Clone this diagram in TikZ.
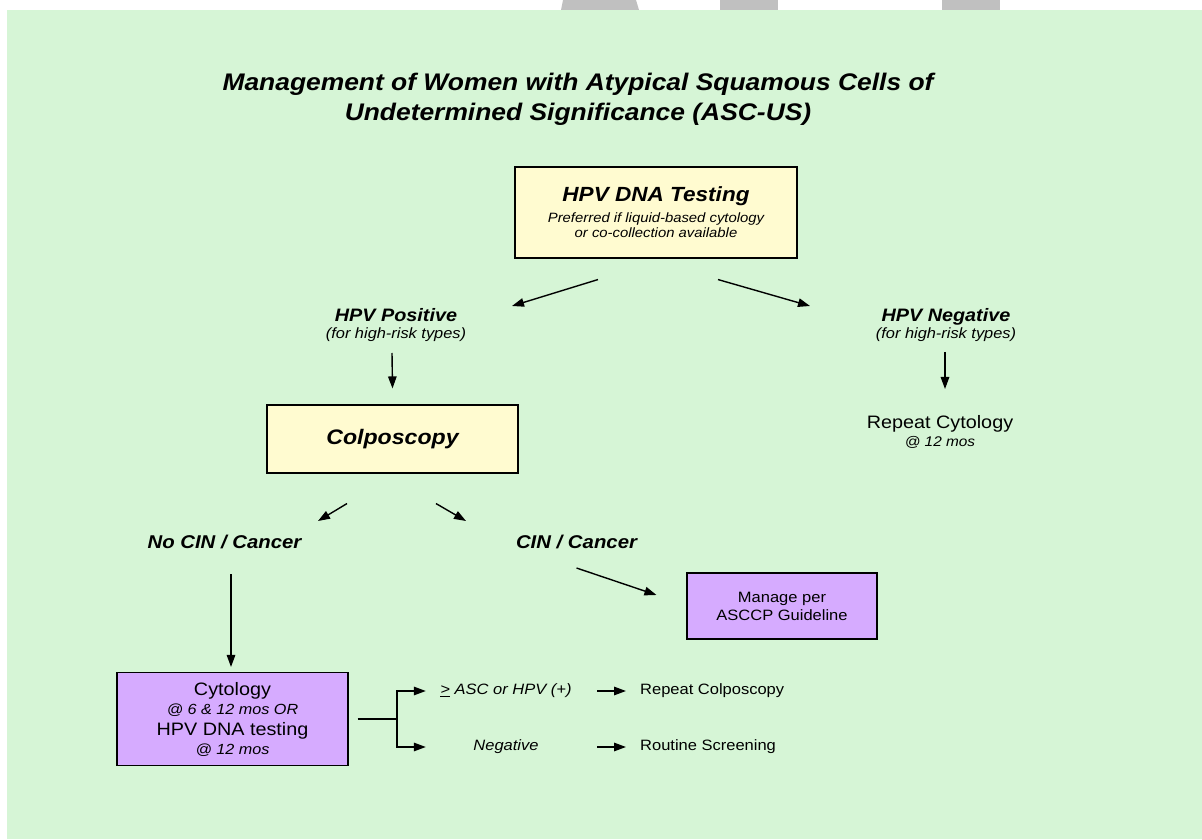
\documentclass[tikz,border=0pt]{standalone}
\usepackage{fontspec}
\setmainfont{Liberation Sans}[FakeStretch=1.1]
\usepackage{tikz}
\usetikzlibrary{arrows.meta,calc}

\definecolor{bggreen}{RGB}{214,245,214}
\definecolor{boxyellow}{RGB}{255,251,208}
\definecolor{boxpurple}{RGB}{214,171,255}
\definecolor{tabgray}{RGB}{192,192,192}

\tikzset{
  yellowbox/.style={draw=black, line width=1.1pt, fill=boxyellow, align=center, inner sep=0pt},
  purplebox/.style={draw=black, line width=1.1pt, fill=boxpurple, align=center, inner sep=0pt},
  lbl/.style={align=center, inner sep=0pt},
  arr/.style={line width=1.4pt, -{Triangle[length=12pt,width=8.5pt]}}
}

\begin{document}
\begin{tikzpicture}[x=1pt,y=1pt]
\useasboundingbox (0,0) rectangle (1202,839);
% background and tabs
\fill[bggreen] (7,0) rectangle (1202,829);
\fill[tabgray] (561,829) -- (563,839) -- (636,839) -- (639,829) -- cycle;
\fill[tabgray] (720,829) rectangle (778,839);
\fill[tabgray] (942,829) rectangle (1000,839);

% title
\node[lbl, font=\fontsize{24}{30}\selectfont\bfseries\itshape] (title) at (578,740)
  {Management of Women with Atypical Squamous Cells of\\Undetermined Significance (ASC-US)};

% HPV test
\node[yellowbox, minimum width=282pt, minimum height=91pt, font=\fontsize{13.5}{15}\selectfont\itshape] (hpvtest) at (656,626.5)
  {{\fontsize{20.5}{24}\selectfont\bfseries HPV DNA Testing}\\[6pt]Preferred if liquid-based cytology\\or co-collection available};
\node[lbl, font=\fontsize{14.9}{17}\selectfont\itshape] (pos) at (396,514)
  {{\fontsize{18}{22}\selectfont\bfseries HPV Positive}\\(for high-risk types)};
\node[lbl, font=\fontsize{14.9}{17}\selectfont\itshape] (neg) at (946,514)
  {{\fontsize{18}{22}\selectfont\bfseries HPV Negative}\\(for high-risk types)};
\node[lbl, font=\fontsize{14}{18}\selectfont\itshape] (repcyt) at (940,407)
  {{\fontsize{18}{22}\selectfont\upshape Repeat Cytology}\\@ 12 mos};

% colposcopy
\node[yellowbox, minimum width=251pt, minimum height=68pt, font=\fontsize{21}{25}\selectfont\bfseries\itshape] (colpo) at (392.5,400) {Colposcopy};
\node[lbl, font=\fontsize{18.5}{22}\selectfont\bfseries\itshape] (nocin) at (224.5,297) {No CIN / Cancer};
\node[lbl, font=\fontsize{18.5}{22}\selectfont\bfseries\itshape] (cin) at (576.5,297) {CIN / Cancer};
\node[purplebox, minimum width=190pt, minimum height=66pt, font=\fontsize{15}{18}\selectfont] (manage) at (782,233) {Manage per\\ASCCP Guideline};

% follow-up
\node[purplebox, minimum width=231pt, minimum height=93pt, font=\fontsize{14.7}{19}\selectfont\itshape] (cytbox) at (232.5,120)
  {{\fontsize{18}{22}\selectfont\upshape Cytology}\\@ 6 \& 12 mos OR\\[2pt]{\fontsize{18}{22}\selectfont\upshape HPV DNA testing}\\@ 12 mos};
\coordinate (fork) at (397,120);
\node[lbl, minimum width=150pt, font=\fontsize{15}{18}\selectfont\itshape] (geasc) at (506,148) {\underline{>} ASC or HPV (+)};
\node[lbl, minimum width=150pt, font=\fontsize{15}{18}\selectfont\itshape] (negres) at (506,92) {Negative};
\node[lbl, anchor=west, font=\fontsize{15}{18}\selectfont] (repcol) at (640,148) {Repeat Colposcopy};
\node[lbl, anchor=west, font=\fontsize{15}{18}\selectfont] (routine) at (640,92) {Routine Screening};

% connectors
\draw[arr] ([xshift=-58pt,yshift=-21pt]hpvtest.south) -- ([xshift=116pt,yshift=19pt]pos.center);
\draw[arr] ([xshift=62pt,yshift=-21pt]hpvtest.south) -- ([xshift=-136pt,yshift=19pt]neg.center);
\draw[arr] ([xshift=-4pt,yshift=-28pt]pos.center) -- ([yshift=16pt]colpo.north);
\draw[arr] ([xshift=-1pt,yshift=-27pt]neg.center) -- ([xshift=5pt,yshift=43pt]repcyt.center);
\draw[arr] ([xshift=-45.5pt,yshift=-30pt]colpo.south) -- ([xshift=93.5pt,yshift=21pt]nocin.center);
\draw[arr] ([xshift=43.5pt,yshift=-30pt]colpo.south) -- ([xshift=-110.5pt,yshift=21pt]cin.center);
\draw[arr] ([yshift=-26pt]cin.center) -- ([xshift=-30pt,yshift=11pt]manage.west);
\draw[arr] ([xshift=6.5pt,yshift=-32pt]nocin.center) -- ([xshift=-1.5pt,yshift=5pt]cytbox.north);
\draw[line width=1.4pt] ([xshift=9pt]cytbox.east) -- (fork);
\draw[arr] (fork) |- ([xshift=-5pt]geasc.west);
\draw[arr] (fork) |- ([xshift=-5pt]negres.west);
\draw[arr] ([xshift=16pt]geasc.east) -- ([xshift=-14pt]repcol.west);
\draw[arr] ([xshift=16pt]negres.east) -- ([xshift=-14pt]routine.west);
\end{tikzpicture}
\end{document}
